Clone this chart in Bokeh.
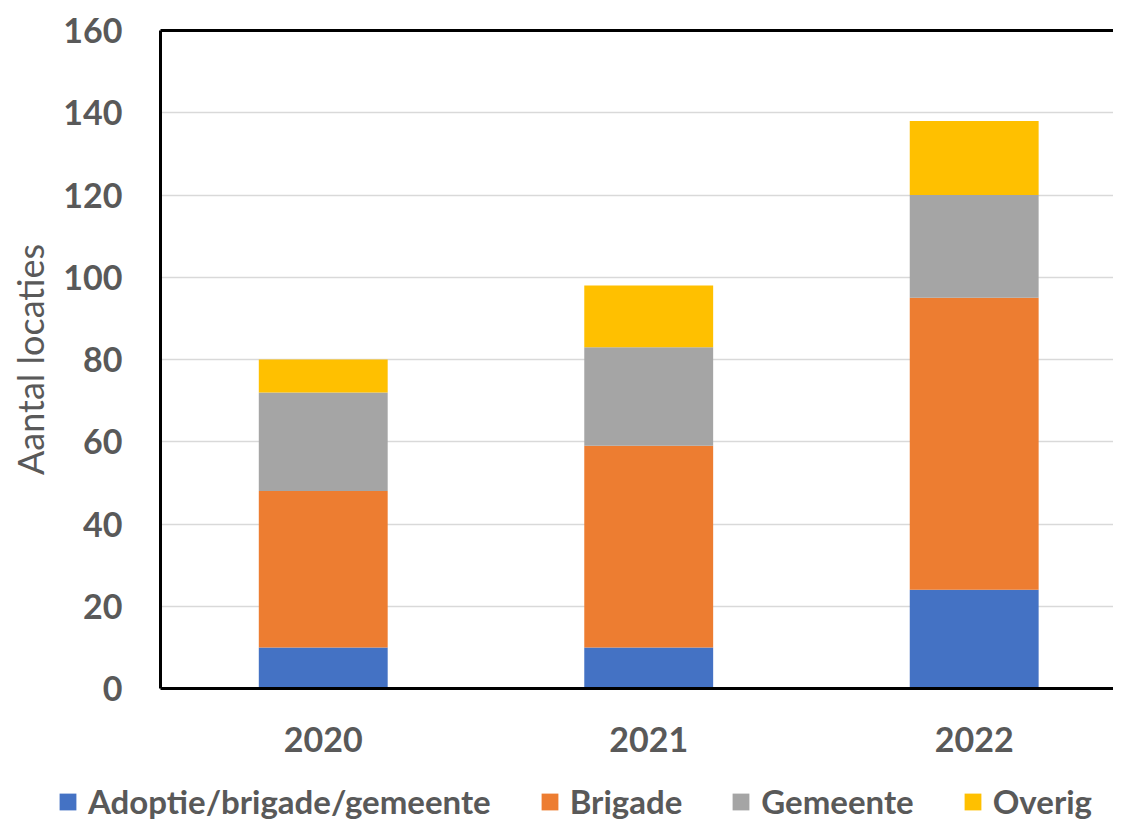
from bokeh.plotting import figure
from bokeh.models import ColumnDataSource, Range1d, FixedTicker, LinearAxis, Legend
from bokeh.embed import file_html
from bokeh.resources import INLINE

years = ["2020", "2021", "2022"]
adoptie = [10, 10, 24]
brigade = [38, 49, 71]
gemeente = [24, 24, 25]
overig = [8, 15, 18]
series = ["adoptie", "brigade", "gemeente", "overig"]
labels = ["Adoptie/brigade/gemeente", "Brigade", "Gemeente", "Overig"]
colors = ["#4472C4", "#ED7D31", "#A5A5A5", "#FFC000"]
y_ticks = [0, 20, 40, 60, 80, 100, 120, 140, 160]

xpos = [i + 0.5 for i in range(len(years))]
source = ColumnDataSource(dict(x=xpos, adoptie=adoptie, brigade=brigade,
                               gemeente=gemeente, overig=overig))

TXT = "#595959"
FONT = "Lato"

p = figure(width=1113, height=770, output_backend="svg", toolbar_location=None,
           x_range=Range1d(0, 2.928), y_range=Range1d(0, 160),
           min_border_left=160, min_border_right=0, min_border_top=30,
           min_border_bottom=82)
p.outline_line_color = None
p.background_fill_color = "white"
p.border_fill_color = "white"

renderers = p.vbar_stack(series, x="x", width=0.396, source=source, color=colors,
                         line_color=None)

# grid
p.xgrid.grid_line_color = None
p.ygrid.grid_line_color = "#D9D9D9"
p.ygrid.grid_line_width = 1.5
p.ygrid.ticker = FixedTicker(ticks=y_ticks)

# y axis
ya = p.yaxis[0]
ya.ticker = FixedTicker(ticks=y_ticks)
ya.axis_line_color = "black"
ya.axis_line_width = 3
ya.major_tick_line_color = None
ya.minor_tick_line_color = None
ya.major_label_text_font = FONT
ya.major_label_text_font_style = "bold"
ya.major_label_text_font_size = "34px"
ya.major_label_text_color = TXT
ya.major_label_standoff = 32
ya.axis_label = "Aantal locaties"
ya.axis_label_text_font = FONT
ya.axis_label_text_font_style = "normal"
ya.axis_label_text_font_size = "36px"
ya.axis_label_text_color = TXT
ya.axis_label_standoff = 8

# x axis
xa = p.xaxis[0]
xa.ticker = FixedTicker(ticks=xpos)
xa.major_label_overrides = {xv: y for xv, y in zip(xpos, years)}
xa.axis_line_color = "black"
xa.axis_line_width = 3
xa.major_tick_line_color = None
xa.minor_tick_line_color = None
xa.major_label_text_font = FONT
xa.major_label_text_font_style = "bold"
xa.major_label_text_font_size = "34px"
xa.major_label_text_color = TXT
xa.major_label_standoff = 32

# top border
top = LinearAxis(ticker=FixedTicker(ticks=[]), axis_line_color="black", axis_line_width=3,
                 major_tick_line_color=None, minor_tick_line_color=None,
                 major_label_text_font_size="0px")
p.add_layout(top, "above")

# legend strip (separate root so its frame is not aligned with the chart's)
lf = figure(width=1113, height=51, output_backend="svg", toolbar_location=None,
            x_axis_location=None, y_axis_location=None,
            x_range=Range1d(0, 1), y_range=Range1d(0, 1),
            min_border_left=0, min_border_right=0, min_border_top=0, min_border_bottom=0)
lf.outline_line_color = None
lf.background_fill_color = "white"
lf.border_fill_color = "white"
lf.xgrid.visible = False
lf.ygrid.visible = False
items = []
for lab, c in zip(labels, colors):
    # legend-only renderer: a zero-size bar, so only its legend swatch shows
    r = lf.vbar(x=[0.5], top=[0], bottom=[0], width=0, color=c, line_color=None)
    items.append((lab, [r]))
legend = Legend(items=items, orientation="horizontal", location=(57, 0),
                label_text_font=FONT, label_text_font_style="bold",
                label_text_font_size="33px", label_text_color=TXT,
                glyph_width=21, glyph_height=21, label_standoff=10, spacing=48,
                padding=0, margin=0, border_line_color=None,
                background_fill_alpha=0)
lf.add_layout(legend, "center")

open("out.html", "w").write(file_html([p, lf], INLINE))
